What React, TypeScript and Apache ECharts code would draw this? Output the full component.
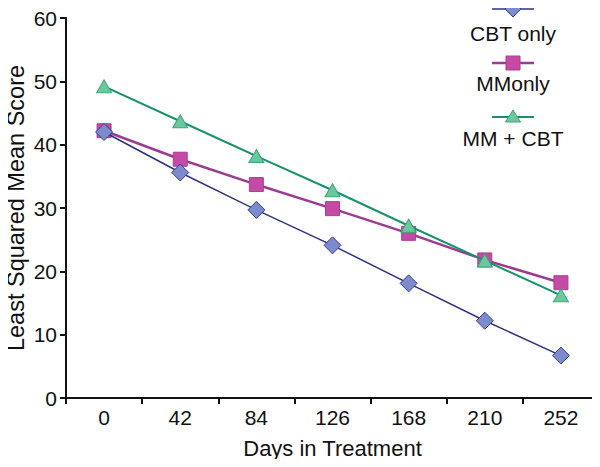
import React, { useEffect, useRef } from "react";
import * as echarts from "echarts";

const days = ["0", "42", "84", "126", "168", "210", "252"];
const yTicks = [0, 10, 20, 30, 40, 50, 60];
const cbtOnly = [42.0, 35.6, 29.7, 24.1, 18.1, 12.2, 6.7];
const mmOnly = [42.2, 37.7, 33.7, 29.9, 26.0, 21.8, 18.2];
const mmCbt = [49.2, 43.7, 38.2, 32.8, 27.2, 21.7, 16.2];
const seriesNames = ["CBT only", "MMonly", "MM + CBT"];

const FONT = "'Liberation Sans', Arial, Helvetica, sans-serif";

export default function App() {
  const ref = useRef<HTMLDivElement>(null);
  useEffect(() => {
    if (!ref.current) return;
    const chart = echarts.init(ref.current, undefined, { renderer: "svg" });
    const cx = 513;
    const legendItems = [
      { y: 9, ty: 33, name: seriesNames[0], line: "#2e3182", fill: "#7b8bcc", border: "#3b3f8c", shape: "diamond", lw: 1.5 },
      { y: 63, ty: 83, name: seriesNames[1], line: "#9b3b92", fill: "#c44aa6", border: "#a8408f", shape: "rect", lw: 2.5 },
      { y: 117, ty: 138, name: seriesNames[2], line: "#17936c", fill: "#6cc89c", border: "#3aa57a", shape: "triangle", lw: 2 },
    ];
    const graphics: any[] = [];
    legendItems.forEach((it) => {
      graphics.push({
        type: "line",
        shape: { x1: cx - 21, y1: it.y, x2: cx + 21, y2: it.y },
        style: { stroke: it.line, lineWidth: it.lw },
      });
      if (it.shape === "diamond") {
        graphics.push({
          type: "polygon",
          shape: { points: [[cx, it.y - 8], [cx + 8, it.y], [cx, it.y + 8], [cx - 8, it.y]] },
          style: { fill: it.fill, stroke: it.border, lineWidth: 1 },
        });
      } else if (it.shape === "rect") {
        graphics.push({
          type: "rect",
          shape: { x: cx - 7, y: it.y - 7, width: 14, height: 14 },
          style: { fill: it.fill, stroke: it.border, lineWidth: 1 },
        });
      } else {
        graphics.push({
          type: "polygon",
          shape: { points: [[cx, it.y - 7], [cx + 7.5, it.y + 5], [cx - 7.5, it.y + 5]] },
          style: { fill: it.fill, stroke: it.border, lineWidth: 1 },
        });
      }
      graphics.push({
        type: "text",
        x: cx,
        y: it.ty,
        style: {
          text: it.name,
          fill: "#111",
          font: `21px ${FONT}`,
          align: "center",
          verticalAlign: "middle",
        },
      });
    });

    chart.setOption({
      animation: false,
      backgroundColor: "#fff",
      textStyle: { fontFamily: FONT },
      grid: { left: 66, right: 1, top: 18, bottom: 69, containLabel: false, outerBoundsMode: "none" },
      xAxis: {
        type: "category",
        data: days,
        boundaryGap: true,
        name: "Days in Treatment",
        nameLocation: "middle",
        nameGap: 39,
        nameMoveOverlap: false,
        nameTextStyle: { fontSize: 22, color: "#111", fontFamily: FONT },
        axisLine: { lineStyle: { color: "#111", width: 2 } },
        axisTick: { show: true, length: 6, lineStyle: { color: "#111", width: 2 } },
        axisLabel: { fontSize: 21, color: "#111", margin: 9, fontFamily: FONT },
        splitLine: { show: false },
      },
      yAxis: {
        type: "value",
        min: yTicks[0],
        max: yTicks[yTicks.length - 1],
        interval: 10,
        name: "Least Squared Mean Score",
        nameLocation: "middle",
        nameGap: 38,
        nameMoveOverlap: false,
        nameTextStyle: { fontSize: 23.5, color: "#111", fontFamily: FONT },
        axisLine: { show: true, lineStyle: { color: "#111", width: 2 } },
        axisTick: { show: true, length: 6, lineStyle: { color: "#111", width: 2 } },
        axisLabel: { fontSize: 21, color: "#111", margin: 9, fontFamily: FONT },
        splitLine: { show: false },
      },
      series: [
        {
          name: seriesNames[1],
          type: "line",
          data: mmOnly,
          symbol: "rect",
          symbolSize: 14,
          lineStyle: { color: "#9b3b92", width: 2.5 },
          itemStyle: { color: "#c44aa6", borderColor: "#a8408f", borderWidth: 1 },
          z: 2,
        },
        {
          name: seriesNames[2],
          type: "line",
          data: mmCbt,
          symbol: "triangle",
          symbolSize: [15, 13],
          lineStyle: { color: "#17936c", width: 2 },
          itemStyle: { color: "#6cc89c", borderColor: "#3aa57a", borderWidth: 1 },
          z: 3,
        },
        {
          name: seriesNames[0],
          type: "line",
          data: cbtOnly,
          symbol: "diamond",
          symbolSize: [17, 17],
          lineStyle: { color: "#2e3182", width: 1.5 },
          itemStyle: { color: "#7b8bcc", borderColor: "#3b3f8c", borderWidth: 1 },
          z: 4,
        },
      ],
      graphic: graphics,
    });
    return () => chart.dispose();
  }, []);
  return <div ref={ref} style={{ width: 600, height: 467, margin: -8 }} />;
}
